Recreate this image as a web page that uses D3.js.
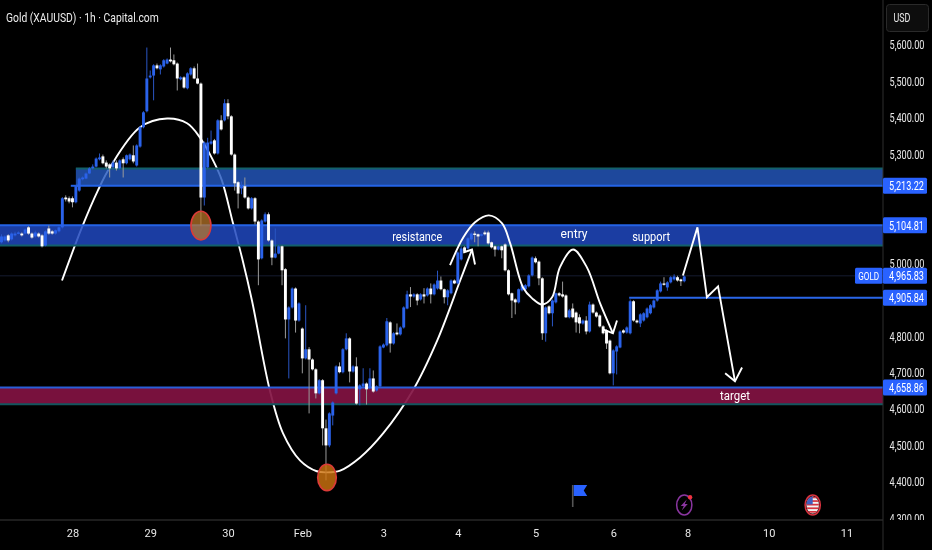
<!DOCTYPE html>
<html><head><meta charset="utf-8">
<style>html,body{margin:0;padding:0;background:#000;overflow:hidden}svg{display:block;filter:blur(0.35px)}text{font-family:Roboto,sans-serif}</style>
<script src="https://cdn.jsdelivr.net/npm/d3@7"></script></head><body>
<svg id="c" width="932" height="550"></svg>
<script>
const opens=[5058,5063,5077,5066,5077,5082,5082,5082,5099,5082,5074,5082,5077,5049,5096,5088,5082,5088,5099,5181,5179,5179,5168,5200,5231,5233,5247,5261,5266,5286,5294,5277,5272,5264,5277,5261,5286,5275,5286,5297,5269,5321,5374,5418,5511,5516,5544,5533,5541,5549,5560,5558,5549,5506,5511,5481,5519,5536,5508,5494,
5181,5264,5329,5338,5302,5393,5393,5440,5404,5299,5223,5206,5212,5181,5151,5179,5115,5014,5115,5135,5063,5016,5027,5047,4984,4846,4879,4931,4843,4821,4739,4764,4736,4709,4643,4679,4547,4500,4582,4643,4717,4701,4764,4794,4703,4717,4654,4662,4670,4657,4684,4651,4662,4769,4775,4838,4780,4810,4805,4824,4876,4915,4909,4915,4901,4915,4912,4931,4915,4931,4953,4929,4907,4918,4953,4945,5011,5044,5041,5066,5082,5080,5077,5085,5085,5058,5047,5038,5047,5052,4981,4918,4901,4893,4926,4929,4937,4967,5014,5005,4959,4808,4882,4863,4893,4918,4915,4912,4852,4876,4865,4852,4835,4843,4813,4887,4865,4857,4827,4816,4788,4698,4758,4769,4816,4810,4808,4896,4843,4835,4843,4852,4863,4879,4898,4923,4945,4934,4948,4956,4962,4956,4951];
const closes=[5074,5074,5063,5082,5082,5085,5077,5093,5082,5071,5085,5074,5047,5088,5082,5082,5091,5099,5179,5176,5170,5168,5212,5233,5236,5247,5261,5266,5288,5291,5275,5266,5261,5277,5261,5283,5275,5297,5299,5280,5324,5374,5415,5508,5516,5544,5536,5544,5558,5560,5555,5547,5508,5511,5483,5522,5536,5508,5494,5181,
5332,5332,5335,5302,5393,5368,5440,5404,5299,5220,5192,5212,5181,5151,5179,5115,5011,5118,5135,5063,5016,5027,5047,4981,4846,4879,4931,4843,4890,4739,4764,4736,4709,4643,4679,4547,4500,4588,4618,4717,4701,4764,4794,4703,4717,4615,4665,4670,4654,4684,4648,4662,4772,4777,4841,4780,4808,4805,4824,4879,4915,4909,4915,4898,4915,4909,4931,4915,4942,4953,4929,4907,4926,4953,4945,5030,5041,5033,5069,5082,5080,5074,5080,5080,5055,5044,5038,5047,5036,4981,4915,4898,4893,4929,4940,4940,4967,5016,5003,4959,4808,4879,4863,4898,4918,4912,4909,4852,4871,4852,4838,4835,4843,4813,4887,4865,4854,4827,4808,4780,4698,4761,4772,4813,4810,4824,4896,4843,4838,4860,4863,4876,4885,4898,4926,4945,4942,4948,4962,4964,4953,4951,4964];
const highs=[5080,5077,5080,5085,5087,5088,5085,5096,5102,5085,5090,5085,5080,5091,5104,5091,5093,5102,5182,5187,5184,5184,5215,5236,5239,5250,5264,5272,5291,5302,5299,5283,5275,5283,5283,5286,5291,5299,5302,5324,5327,5377,5418,5593,5530,5547,5549,5547,5561,5563,5593,5574,5552,5514,5514,5525,5539,5541,5549,5497,
5335,5345,5365,5342,5396,5407,5451,5451,5407,5302,5226,5225,5236,5184,5182,5182,5118,5121,5140,5140,5066,5096,5050,5049,4987,4882,4934,4934,4893,4824,4885,4770,4739,4712,4682,4682,4571,4591,4621,4720,4728,4767,4808,4797,4720,4742,4668,4712,4673,4712,4706,4665,4775,4780,4850,4841,4811,4835,4827,4882,4925,4935,4918,4918,4918,4932,4934,4945,4945,4980,4964,4931,4929,4956,4956,5033,5047,5047,5072,5085,5088,5082,5082,5090,5090,5060,5049,5049,5049,5055,4984,4920,4904,4931,4943,4943,4970,5019,5019,5008,4962,4882,4885,4901,4920,4921,4950,4915,4875,4890,4868,4860,4846,4855,4895,4890,4868,4860,4830,4819,4791,4764,4775,4816,4819,4827,4901,4899,4846,4863,4866,4879,4888,4901,4929,4950,4962,4951,4965,4970,4966,4958,4967];
const lows=[5055,5060,5058,5063,5074,5080,5074,5080,5079,5068,5071,5071,5044,5047,5079,5079,5079,5085,5096,5170,5165,5154,5165,5197,5228,5231,5245,5258,5264,5283,5272,5261,5236,5258,5255,5258,5236,5272,5283,5275,5266,5318,5371,5415,5508,5448,5533,5519,5538,5547,5552,5544,5475,5503,5480,5478,5516,5506,5492,5104,
5159,5261,5326,5299,5299,5365,5390,5396,5296,5200,5151,5190,5178,5148,5148,5107,4940,5011,5112,5060,4995,5014,5025,4940,4794,4684,4876,4810,4840,4698,4736,4588,4706,4629,4640,4500,4404,4495,4555,4640,4698,4698,4761,4673,4700,4612,4610,4659,4612,4654,4645,4648,4660,4767,4772,4755,4777,4802,4802,4821,4874,4880,4906,4885,4898,4890,4909,4890,4912,4928,4926,4890,4885,4915,4943,4943,5008,5030,5038,5063,5058,5047,5074,5077,5052,5041,5019,5036,5014,4978,4912,4850,4860,4890,4923,4926,4934,4964,5000,4940,4790,4785,4860,4827,4890,4909,4906,4850,4849,4849,4810,4808,4832,4805,4810,4862,4851,4824,4805,4765,4695,4665,4695,4767,4807,4807,4805,4840,4835,4825,4840,4849,4860,4876,4895,4920,4939,4925,4945,4953,4950,4938,4948];

const arcOne=[[17.9,4953],[23.8,5099],[28.5,5200],[32.1,5264],[41,5374],[49,5398],[54.9,5385],[58.7,5346],[62.6,5283],[65.2,5228],[68.5,5110],[71.2,5014],[74.1,4898],[79.4,4651],[83.3,4533],[88.3,4459],[93.3,4429],[96.3,4426],[100.2,4431],[106.1,4467],[112.9,4533],[121.7,4651],[128.9,4788],[135.7,4953],[139.2,5038]];
const arcOneHead=[[136.6,5030],[139.2,5038],[140.1,4997]];
const arcTwo=[[132.7,4995],[136.6,5071],[140.1,5113],[144.2,5132],[148.1,5110],[150.5,5055],[154.3,4934],[157,4904],[160,4887],[162.9,4907],[165.2,4989],[169.1,5038],[173.2,4989],[177.1,4890],[180.9,4808]];
const arcTwoHead=[[178,4819],[180.9,4808],[182.1,4843]];
const pathThree=[[201.6,4967],[205.9,5099],[208.7,4907],[212,4937],[217,4676]];
const pathThreeHead=[[214.1,4698],[217,4676],[219.1,4714]];
const priceTicks=[5600,5500,5400,5300,5000,4800,4700,4600,4500,4400,4300];
const dayIndex=[21,44,67,89,113,135,158,181,203,227,250];
const dayLabels=["28","29","30","Feb","3","4","5","6","8","10","11"];
const noteText=["resistance","entry","support","target"];
const notePos=[[123,5074],[169.4,5082],[192.2,5074],[217,4637]];
const noteWidth=[50,27,38,30];
const levelValues=[5213.22,5104.81,4965.83,4905.84,4658.86];
const fmt=d3.format(",.2f");

const W=932,H=550,R=883,B=520;
const x=d3.scaleLinear().domain([0,280]).range([1.5,1.5+280*3.38]);
const y=d3.scaleLinear().domain([4294,5722.5]).range([B+0.4,0.4]);
const svg=d3.select("#c");
svg.append("rect").attr("width",W).attr("height",H).attr("fill","#000");
const defs=svg.append("defs");
defs.append("clipPath").attr("id","plot").append("rect").attr("width",R).attr("height",B);
defs.append("clipPath").attr("id","scaleClip").append("rect").attr("x",R).attr("width",W-R).attr("height",B);
defs.append("clipPath").attr("id","usClip").append("ellipse").attr("rx",6.2).attr("ry",8.6);

function fit(node,xpos,width){
  const n=d3.select(node); n.attr("x",0);
  const k=width/node.getComputedTextLength();
  n.attr("transform",`translate(${xpos},${n.attr("data-y")||0}) scale(${k},1)`);
}

const plot=svg.append("g").attr("clip-path","url(#plot)");
const line=d3.line().x(d=>x(d[0])).y(d=>y(d[1]));
const smooth=d3.line().x(d=>x(d[0])).y(d=>y(d[1])).curve(d3.curveCatmullRom.alpha(0.5));

plot.append("line").attr("x1",0).attr("x2",R).attr("y1",y(4965.83)).attr("y2",y(4965.83)).attr("stroke","#161c30").attr("stroke-width",1);
plot.append("path").attr("d",smooth(arcOne)).attr("fill","none").attr("stroke","#fff").attr("stroke-width",1.9);

function band(x0,top,bottom,fill,topC,botC){
  const g=plot.append("g");
  g.append("rect").attr("x",x0).attr("width",R-x0).attr("y",y(top)).attr("height",y(bottom)-y(top)).attr("fill",fill);
  g.append("line").attr("x1",x0).attr("x2",R).attr("y1",y(top)).attr("y2",y(top)).attr("stroke",topC).attr("stroke-width",2);
  g.append("line").attr("x1",x0).attr("x2",R).attr("y1",y(bottom)).attr("y2",y(bottom)).attr("stroke",botC).attr("stroke-width",2);
}
band(x(22),5261,5213.22,"rgba(36,88,190,0.82)","#13606a","#2463e6");
band(0,5104.81,5049,"rgba(32,72,190,0.85)","#2463e6","#12606a");
band(0,4658.86,4613,"rgba(130,18,66,0.92)","#2a5fd8","#12565e");
plot.append("line").attr("x1",x(20.5)).attr("x2",x(23)).attr("y1",y(5213.22)).attr("y2",y(5213.22)).attr("stroke","#2463e6").attr("stroke-width",2);

const idx=d3.range(opens.length);
const cg=plot.append("g");
const up=i=>closes[i]>=opens[i];
cg.selectAll("line.w").data(idx).join("line").attr("class","w")
  .attr("x1",i=>x(i)).attr("x2",i=>x(i)).attr("y1",i=>y(highs[i])).attr("y2",i=>y(lows[i]))
  .attr("stroke",i=>up(i)?"#2a56c4":"#9a9a9a").attr("stroke-width",1);
cg.selectAll("rect.b").data(idx).join("rect").attr("class","b")
  .attr("x",i=>x(i)-1.45).attr("width",2.9)
  .attr("y",i=>y(Math.max(opens[i],closes[i])))
  .attr("height",i=>Math.max(1.4,Math.abs(y(opens[i])-y(closes[i]))))
  .attr("fill",i=>up(i)?"#2a62ea":"#ffffff");

plot.append("line").attr("x1",x(186)-1).attr("x2",R).attr("y1",y(4905.84)).attr("y2",y(4905.84)).attr("stroke","#2a66e8").attr("stroke-width",2);

function spot(i,p,rx,ry,fill){plot.append("ellipse").attr("cx",x(i)).attr("cy",y(p)).attr("rx",rx).attr("ry",ry).attr("fill",fill).attr("stroke","#dc3b38").attr("stroke-width",1.6);}
spot(59,5104,10,14.3,"rgba(190,120,40,0.72)");
spot(96.3,4412,9.3,13.2,"rgba(205,115,15,0.82)");

const wl=(d,f)=>plot.append("path").attr("d",f(d)).attr("fill","none").attr("stroke","#fff").attr("stroke-width",1.9).attr("stroke-linejoin","miter");
wl(arcOneHead,line);
wl(arcTwo,smooth);
wl(arcTwoHead,line);
wl(pathThree,line);
wl(pathThreeHead,line);

plot.selectAll("text.n").data(noteText).join("text").attr("class","n")
  .attr("data-y",(d,i)=>y(notePos[i][1])).attr("dy","0.35em")
  .attr("text-anchor","middle").attr("fill","#fff").attr("font-size",13).text(d=>d)
  .each(function(d,i){fit(this,x(notePos[i][0]),noteWidth[i]);});

const fl=plot.append("g").attr("transform",`translate(${x(169)},0)`);
fl.append("line").attr("x1",0).attr("x2",0).attr("y1",485).attr("y2",507).attr("stroke","#555").attr("stroke-width",1.6);
fl.append("path").attr("d","M1,485 L14.5,485 L11,490.5 L14.5,496 L1,496 Z").attr("fill","#2962ff");
const bolt=plot.append("g").attr("transform",`translate(${x(202)},505)`);
bolt.append("ellipse").attr("rx",7.6).attr("ry",10).attr("fill","none").attr("stroke","#8a35a0").attr("stroke-width",1.5);
bolt.append("path").attr("d","M2.5,-5.5 L-3.5,1 L-0.5,1 L-2.5,5.5 L3.5,-1 L0.5,-1 Z").attr("fill","#8a35a0");
bolt.append("circle").attr("cx",5.8).attr("cy",-7.8).attr("r",2.2).attr("fill","#ef3340");
const us=plot.append("g").attr("transform",`translate(${x(240)},505)`);
us.append("ellipse").attr("rx",7.6).attr("ry",10).attr("fill","#2a1014").attr("stroke","#d8333f").attr("stroke-width",1.5);
const usIn=us.append("g").attr("clip-path","url(#usClip)");
usIn.append("rect").attr("x",-7).attr("y",-9).attr("width",14).attr("height",18).attr("fill","#f2f2f2");
d3.range(5).forEach(k=>usIn.append("rect").attr("x",-7).attr("y",-8.4+k*3.6).attr("width",14).attr("height",1.7).attr("fill","#d8333f"));
usIn.append("rect").attr("x",-7).attr("y",-9).attr("width",7).attr("height",8.4).attr("fill","#3f5fc0");

svg.append("line").attr("x1",0).attr("x2",R).attr("y1",B).attr("y2",B).attr("stroke","#3a3a3a").attr("stroke-width",1);
svg.append("line").attr("x1",R).attr("x2",R).attr("y1",0).attr("y2",H).attr("stroke","#2e2e2e").attr("stroke-width",1);

const pa=svg.append("g").attr("clip-path","url(#scaleClip)").append("g").attr("transform",`translate(${R},0)`)
  .call(d3.axisRight(y).tickValues(priceTicks).tickSize(0).tickPadding(7).tickFormat(fmt));
pa.select(".domain").remove();
pa.selectAll("text").attr("fill","#e8e8e8").attr("font-size",12).style("font-family","Roboto").each(function(){fit(this,6.5,35);});

const ta=svg.append("g").attr("transform",`translate(0,${B})`)
  .call(d3.axisBottom(x).tickValues(dayIndex).tickSize(0).tickPadding(9).tickFormat((d,i)=>dayLabels[i]));
ta.select(".domain").remove();
ta.selectAll("text").attr("fill","#e8e8e8").attr("font-size",11).style("font-family","Roboto");

const lg=svg.append("g");
levelValues.forEach(v=>{
  lg.append("rect").attr("x",R).attr("width",44).attr("y",y(v)-8).attr("height",16).attr("rx",1.5).attr("fill","#2962ff");
  lg.append("text").attr("data-y",y(v)).attr("dy","0.36em").attr("fill","#fff").attr("font-size",12).text(fmt(v)).each(function(){fit(this,R+6,35);});
});
lg.append("rect").attr("x",855).attr("width",27.5).attr("y",y(4965.83)-8).attr("height",16).attr("rx",1.5).attr("fill","#2962ff");
lg.append("text").attr("data-y",y(4965.83)).attr("dy","0.36em").attr("text-anchor","middle").attr("fill","#fff").attr("font-size",11).text("GOLD").each(function(){fit(this,868.7,21);});

svg.append("rect").attr("x",886.5).attr("y",4.5).attr("width",42).attr("height",27).attr("rx",3).attr("fill","#0d0d0d").attr("stroke","#2a2a2a");
svg.append("text").attr("data-y",18).attr("dy","0.36em").attr("fill","#e8e8e8").attr("font-size",12).text("USD").each(function(){fit(this,893.5,17);});
svg.append("text").attr("data-y",18).attr("dy","0.36em").attr("fill","#ececec").attr("font-size",12).text("Gold (XAUUSD) · 1h · Capital.com").each(function(){fit(this,6,153);});
</script></body></html>
